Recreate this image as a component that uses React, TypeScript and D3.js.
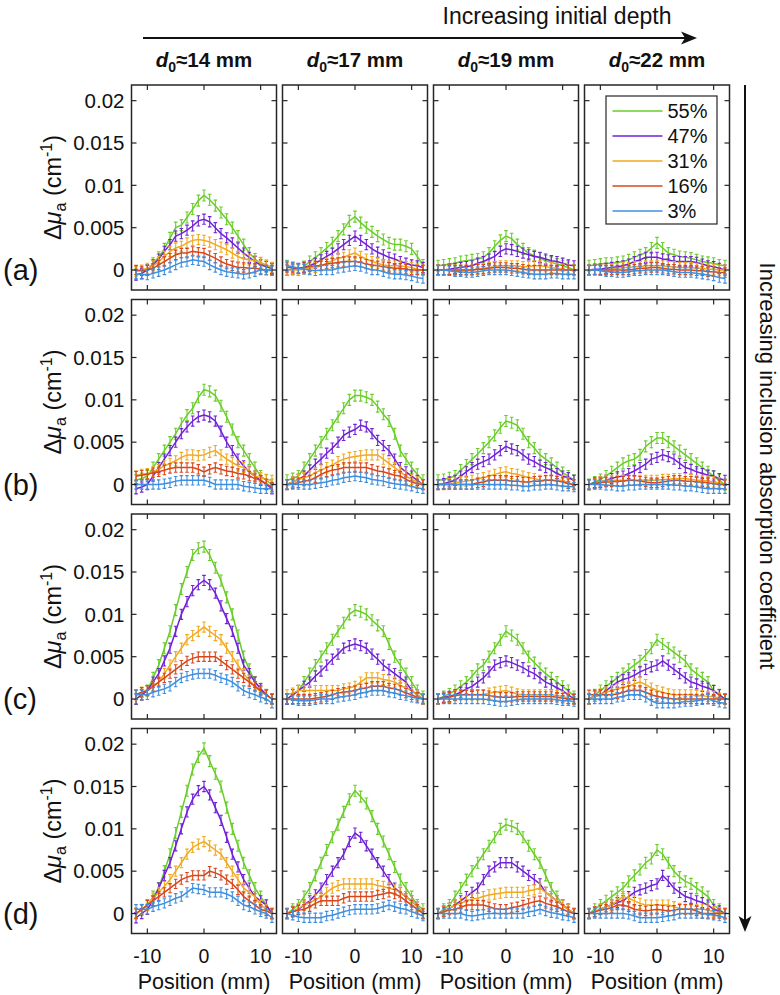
import React from 'react';
import * as d3 from 'd3';

// Sampling positions (mm)
const POSITIONS = [-12, -11, -10, -9, -8, -7, -6, -5, -4, -3, -2, -1, 0, 1, 2, 3, 4, 5, 6, 7, 8, 9, 10, 11, 12];
const SERIES_LABELS = ['55%', '47%', '31%', '16%', '3%'];
const SERIES_COLORS = ['#6acd2a', '#7022d6', '#f1a91f', '#d8471c', '#3e8fe0'];
// error bar half-heights, in 1e-3 cm^-1
const SERIES_ERR = [0.65, 0.6, 0.6, 0.55, 0.55];
const DEPTHS = ['14', '17', '19', '22'];
const ROW_LABELS = ['(a)', '(b)', '(c)', '(d)'];
const Y_TICKS = [0, 0.005, 0.01, 0.015, 0.02];
const Y_TICK_LABELS = ['0', '0.005', '0.01', '0.015', '0.02'];
const X_TICKS = [-10, 0, 10];
const UNIT = 1e-3; // values below are in 1e-3 cm^-1

// Row (a)
const A14 = [
  [-0.5, -0.4, 0, 0.8, 1.5, 2.5, 3.8, 5, 5.3, 6.2, 7.2, 8.2, 8.8, 8.3, 7.6, 6.8, 6, 5, 4, 3, 2, 1.3, 0.8, 0.4, 0.1],
  [-0.6, -0.4, 0, 0.6, 1.3, 2.2, 3, 4, 4.3, 4.7, 5.2, 5.8, 6, 5.7, 5, 4.3, 3.8, 3.2, 2.6, 2, 1.5, 1, 0.6, 0.4, 0.2],
  [-0.2, 0, 0.2, 0.5, 1, 1.6, 2.2, 2.6, 2.8, 3.2, 3.5, 3.6, 3.5, 3.3, 3, 2.7, 2.4, 2, 1.6, 1.3, 1.2, 1.1, 0.9, 0.6, 0.3],
  [0, -0.1, 0, 0.2, 0.6, 1, 1.4, 1.8, 2, 2, 2.2, 2.1, 2, 1.7, 1.4, 1, 0.7, 0.5, 0.3, 0.3, 0.2, 0.2, 0.1, 0, 0],
  [-0.5, -0.5, -0.6, -0.4, -0.2, 0, 0.3, 0.6, 0.9, 1, 1.2, 1.1, 1, 0.6, 0.3, 0, -0.2, -0.3, -0.4, -0.5, -0.4, -0.2, 0, 0, -0.1],
];
const A17 = [
  [0.5, 0.2, 0, 0.4, 1, 1.5, 2, 2.6, 3.2, 4, 4.8, 5.8, 6.3, 5.6, 5, 4.5, 4, 3.6, 3.2, 3, 3, 2.8, 2.5, 1.6, 0.6],
  [0, 0.1, 0.2, 0.3, 0.5, 0.8, 1.2, 1.6, 2, 2.5, 3, 3.5, 4, 3.5, 3, 2.5, 2.1, 1.8, 1.5, 1.3, 1, 0.8, 0.6, 0.5, 0.3],
  [0, 0, 0, 0.1, 0.2, 0.3, 0.5, 0.8, 1.1, 1.4, 1.5, 1.8, 2, 1.6, 1.3, 1, 0.8, 0.6, 0.5, 0.5, 0.5, 0.4, 0.3, 0.1, 0],
  [0.3, 0.3, 0.2, 0.3, 0.4, 0.5, 0.5, 0.7, 0.8, 0.9, 1, 1, 1, 0.9, 0.7, 0.6, 0.5, 0.4, 0.3, 0.2, 0.2, 0.1, 0, 0, 0],
  [0.5, 0.4, 0.2, 0.1, 0, -0.1, 0, 0, 0, 0.2, 0.3, 0.4, 0.5, 0.4, 0.2, 0, 0, -0.2, -0.4, -0.5, -0.5, -0.6, -0.7, -0.9, -1],
];
const A19 = [
  [0.5, 0.6, 0.7, 0.8, 1, 1.1, 1.2, 1.3, 1.5, 2, 2.8, 3.5, 4, 3.7, 3, 2.5, 2, 1.7, 1.4, 1.1, 0.9, 0.7, 0.5, 0.3, 0],
  [0, 0, 0.1, 0.2, 0.3, 0.4, 0.5, 0.8, 1, 1.3, 1.6, 2.2, 2.5, 2.4, 2.2, 2, 1.8, 1.6, 1.5, 1.3, 1.1, 1, 0.8, 0.6, 0.5],
  [0, 0, 0, 0, 0, 0, 0, 0.1, 0.2, 0.3, 0.4, 0.5, 0.5, 0.5, 0.5, 0.4, 0.4, 0.5, 0.5, 0.4, 0.3, 0.2, 0.1, 0, 0],
  [0, 0, 0, 0, 0, 0, 0, 0.1, 0.1, 0.2, 0.3, 0.3, 0.3, 0.2, 0.2, 0.1, 0, 0, 0, 0, 0, 0, 0, 0, 0],
  [0, 0, -0.1, -0.2, -0.2, -0.3, -0.3, -0.2, -0.1, 0, 0, 0, 0, -0.1, -0.2, -0.3, -0.4, -0.5, -0.5, -0.5, -0.4, -0.4, -0.5, -0.5, -0.5],
];
const A22 = [
  [0.5, 0.6, 0.7, 0.8, 0.8, 0.9, 1, 1.2, 1.5, 1.8, 2, 2.6, 3.2, 2.6, 2, 1.8, 1.6, 1.5, 1.4, 1.2, 1, 0.9, 0.8, 0.6, 0.5],
  [0, 0.1, 0.1, 0.2, 0.3, 0.4, 0.5, 0.7, 1, 1.2, 1.5, 1.5, 1.5, 1.3, 1.2, 1, 1, 1, 1, 0.9, 0.7, 0.5, 0.4, 0.2, 0],
  [0, 0, 0, 0, 0.1, 0.2, 0.3, 0.3, 0.4, 0.4, 0.5, 0.5, 0.5, 0.5, 0.4, 0.4, 0.3, 0.3, 0.3, 0.2, 0.2, 0.1, 0.1, 0, 0],
  [0, 0, 0, 0, 0, 0, 0, 0, 0.1, 0.2, 0.2, 0.3, 0.3, 0.2, 0.1, 0.1, 0, 0, 0, -0.1, -0.1, -0.2, -0.2, -0.3, -0.3],
  [0, 0, -0.1, -0.2, -0.2, -0.3, -0.3, -0.2, -0.1, -0.1, 0, 0, 0, 0, -0.1, -0.2, -0.3, -0.3, -0.3, -0.4, -0.5, -0.6, -0.7, -0.9, -1],
];

// Row (b)
const B14 = [
  [0.5, 0.7, 1, 2, 3, 4, 5, 6, 7.2, 8.2, 9, 10.3, 11.2, 11, 10.5, 9.3, 8, 6.5, 5, 4, 3, 2, 1, 0.5, 0],
  [-0.5, -0.3, 0, 1, 2, 3, 4, 5, 6, 6.8, 7.5, 8, 8.2, 8, 7.5, 6.3, 5, 4, 3, 2.2, 1.5, 1, 0.5, 0, -0.5],
  [1, 1.2, 1.3, 1.5, 1.8, 2.2, 2.5, 2.8, 3.2, 3.5, 3.5, 3.4, 3.5, 3.8, 4, 3.5, 3, 2.6, 2.2, 2, 1.6, 1, 0.8, 0.6, 0.5],
  [1, 1.1, 1.2, 1.4, 1.5, 1.7, 1.9, 2, 2, 2, 2, 1.8, 1.5, 1.8, 2, 1.8, 1.6, 1.5, 1.3, 1.2, 1, 0.7, 0.5, 0.1, -0.3],
  [0, 0, 0, 0, 0, 0.1, 0.2, 0.4, 0.5, 0.5, 0.5, 0.5, 0.5, 0.3, 0, 0, 0, 0, 0, -0.2, -0.3, -0.4, -0.5, -0.5, -0.5],
];
const B17 = [
  [0.5, 0.7, 1, 2, 3, 4, 5, 6, 7, 8, 9, 10, 10.5, 10.5, 10.3, 10, 9.2, 8.3, 7.5, 6, 4, 3, 2, 1.2, 0.5],
  [0, 0.3, 0.6, 1, 1.7, 2.4, 3, 3.7, 4.3, 5, 5.8, 6.2, 6.5, 7, 6.8, 6, 5.2, 4.6, 4, 3, 2, 1.5, 1, 0.5, 0],
  [0, 0.3, 0.6, 0.8, 1, 1.4, 1.7, 2, 2.3, 2.7, 3, 3.2, 3.3, 3.4, 3.5, 3.5, 3.5, 3, 2.5, 2, 1.5, 1, 0.6, 0.3, 0],
  [0, 0.1, 0.2, 0.4, 0.5, 0.8, 1.2, 1.5, 1.7, 1.8, 2, 2, 2, 2, 2, 1.8, 1.6, 1.5, 1.3, 1.1, 1, 0.6, 0.3, 0.1, 0],
  [0, 0, 0, 0, 0, 0.1, 0.2, 0.3, 0.5, 0.6, 0.8, 0.9, 1, 0.9, 0.8, 0.6, 0.5, 0.4, 0.2, 0.1, 0, -0.1, -0.2, -0.4, -0.5],
];
const B19 = [
  [0.5, 0.6, 0.8, 1, 1.7, 2.3, 3, 3.6, 4.3, 5, 5.8, 6.7, 7.5, 7.3, 7, 6, 5, 4.3, 3.5, 3, 2.5, 2, 1.4, 1, 0.5],
  [0, 0.1, 0.3, 0.5, 1, 1.5, 2, 2.4, 2.7, 3, 3.5, 4, 4.5, 4.2, 4, 3.5, 3, 2.7, 2.3, 2, 1.7, 1.3, 1, 0.8, 0.5],
  [0, 0, 0.1, 0.2, 0.3, 0.4, 0.5, 0.7, 0.8, 1, 1.2, 1.4, 1.5, 1.3, 1.2, 1, 0.8, 0.7, 0.5, 0.5, 0.5, 0.5, 0.5, 0.2, 0],
  [0, 0, 0, 0, 0, 0, 0, 0.2, 0.3, 0.5, 0.5, 0.5, 0.5, 0.4, 0.4, 0.3, 0.3, 0.4, 0.4, 0.5, 0.5, 0.4, 0.3, 0.1, 0],
  [0, 0, 0, 0, 0, 0, 0, 0, 0, 0, 0, 0, 0, -0.1, -0.1, -0.2, -0.2, -0.1, -0.1, 0, 0, -0.1, -0.2, -0.2, -0.3],
];
const B22 = [
  [0, 0.3, 0.6, 1, 1.5, 2, 2.5, 2.8, 3, 3.5, 4.5, 5, 5.5, 5.5, 5, 4.5, 4, 3.5, 3, 2.5, 2, 1.5, 1, 0.5, 0],
  [0, 0.2, 0.3, 0.5, 0.7, 0.9, 1, 1.3, 1.6, 2, 2.4, 3, 3.2, 3.5, 3.3, 3, 2.5, 2, 1.8, 1.5, 1.3, 1.1, 1, 0.7, 0.5],
  [0, 0.1, 0.3, 0.5, 0.5, 0.5, 0.5, 0.5, 0.5, 0.5, 0.5, 0.5, 0.5, 0.6, 0.6, 0.7, 0.7, 0.7, 0.6, 0.5, 0.5, 0.4, 0.3, 0.2, 0],
  [0, 0.1, 0.2, 0.3, 0.3, 0.4, 0.4, 0.5, 0.5, 0.4, 0.3, 0.2, 0.2, 0.3, 0.4, 0.5, 0.5, 0.4, 0.4, 0.3, 0.3, 0.2, 0.1, 0, 0],
  [0, 0, 0, -0.1, -0.1, -0.2, -0.2, -0.1, -0.1, 0, 0, 0, 0, 0, 0, -0.1, -0.1, -0.2, -0.2, -0.3, -0.4, -0.5, -0.5, -0.5, -0.5],
];

// Row (c)
const C14 = [
  [0, 0.5, 1, 2.5, 4, 6, 8, 10.5, 13, 15, 17, 17.8, 18, 17, 15.5, 14, 12, 10, 7.5, 5, 3.5, 2, 1.2, 0.5, 0],
  [0, 0.5, 1, 2, 3, 4.5, 6, 8, 10, 11.5, 12.8, 13.5, 14, 13.5, 12.5, 11, 9.5, 8, 6, 4, 3, 2, 1.2, 0.5, 0],
  [0.5, 0.8, 1, 1.5, 2, 3, 4, 5, 6, 7, 7.5, 8, 8.5, 8, 7.5, 7, 6, 5, 4, 3, 2.2, 1.5, 0.8, 0.5, 0],
  [0.5, 0.8, 1, 1.5, 2, 2.5, 3, 3.5, 4, 4.5, 4.8, 5, 5, 5, 5, 4.5, 4, 3.5, 3, 2.5, 2, 1.5, 1, 0.5, 0],
  [0.5, 0.5, 0.5, 0.8, 1, 1.2, 1.5, 2, 2.5, 2.7, 2.9, 3, 3, 3, 2.8, 2.5, 2.3, 2, 1.5, 1, 0.7, 0.5, 0.2, 0, -0.5],
];
const C17 = [
  [0, 0.5, 1, 2, 3, 4, 5, 6, 7, 8, 9, 10, 10.5, 10.3, 10, 9.3, 8.7, 8, 6.5, 5, 4, 3, 2, 1, 0.3],
  [0, 0.5, 1, 1.5, 2, 2.7, 3.3, 4, 4.7, 5.3, 6, 6.3, 6.5, 6.3, 6, 5.3, 4.7, 4, 3.5, 3, 2.5, 2, 1, 0.5, 0],
  [0.5, 0.7, 1, 1, 1, 1, 1, 1, 1, 1, 1.2, 1.3, 1.5, 2, 2.5, 2.5, 2.5, 2.3, 2.2, 2, 1.6, 1.3, 1, 0.5, 0],
  [0, 0, 0, 0, 0, 0.1, 0.2, 0.3, 0.5, 0.7, 0.8, 0.9, 1, 1.2, 1.3, 1.5, 1.5, 1.5, 1.3, 1.2, 1, 0.7, 0.5, 0.2, 0],
  [0, -0.1, -0.2, -0.2, -0.2, -0.1, 0, 0, 0, 0.2, 0.3, 0.4, 0.5, 0.7, 0.8, 1, 1, 1, 0.8, 0.7, 0.5, 0.4, 0.2, 0.1, 0],
];
const C19 = [
  [0, 0.3, 0.6, 1, 1.5, 2, 2.7, 3.5, 4, 5, 6, 7, 8, 7.5, 7, 6, 5, 4.3, 3.6, 3, 2.5, 2, 1.5, 1, 0.3],
  [0, 0.2, 0.3, 0.5, 0.8, 1.2, 1.5, 2, 2.5, 3.2, 4, 4.3, 4.5, 4.3, 4, 3.7, 3.3, 3, 2.5, 2, 1.7, 1.3, 1, 0.5, 0],
  [0, 0.1, 0.2, 0.4, 0.5, 0.5, 0.5, 0.5, 0.5, 0.7, 0.8, 0.9, 1, 0.8, 0.6, 0.5, 0.5, 0.5, 0.5, 0.5, 0.5, 0.4, 0.3, 0.1, 0],
  [0, 0.1, 0.2, 0.4, 0.5, 0.5, 0.5, 0.5, 0.5, 0.4, 0.3, 0.2, 0.2, 0.2, 0.3, 0.3, 0.3, 0.3, 0.3, 0.3, 0.3, 0.2, 0.1, 0, 0],
  [0, 0, 0, 0, 0, 0, 0, 0, 0, -0.1, -0.2, -0.3, -0.3, -0.2, -0.1, 0, 0, 0, 0, 0, 0, -0.1, -0.2, -0.2, -0.3],
];
const C22 = [
  [0, 0.5, 1, 1.5, 2, 2.5, 3, 3.5, 4, 4.5, 5.2, 6, 7, 6.5, 6, 5.5, 5, 4.5, 3.5, 3, 2.5, 2, 1, 0.5, 0],
  [0, 0.3, 0.5, 1, 1.5, 2, 2.3, 2.5, 2.8, 3.2, 3.5, 3.8, 4, 4.5, 4, 3.5, 3, 2.5, 2, 1.8, 1.5, 1.3, 1, 0.5, 0],
  [0, 0.3, 0.6, 0.8, 1, 1.2, 1.4, 1.5, 1.8, 2, 1.7, 1.3, 1, 0.8, 0.6, 0.5, 0.5, 0.5, 0.5, 0.4, 0.4, 0.3, 0.3, 0.1, 0],
  [0.5, 0.5, 0.5, 0.5, 0.5, 0.6, 0.8, 1, 1, 1, 0.8, 0.5, 0.3, 0.2, 0.1, 0, 0, 0, 0, 0, 0, 0, 0, 0, 0],
  [0, 0, 0, 0, 0, 0.2, 0.3, 0.5, 0.5, 0.5, 0.2, -0.2, -0.5, -0.5, -0.5, -0.5, -0.4, -0.3, -0.3, -0.2, -0.1, 0, -0.2, -0.4, -0.5],
];

// Row (d)
const D14 = [
  [0, 0.4, 1, 2, 3, 5, 7, 9.5, 12, 14.5, 17, 18.5, 19.5, 18, 16.5, 15, 12.5, 10, 8, 6, 4.5, 3, 2, 1, 0],
  [-0.5, 0, 0.5, 1.5, 3, 4.5, 6, 8, 10, 12, 13.5, 14.5, 15, 14, 12.5, 11, 9, 7, 5.5, 4, 3, 2, 1.5, 1, 0],
  [0, 0.5, 1, 1.8, 2.5, 3.2, 4, 5, 6, 7, 7.8, 8.2, 8.5, 8, 7.5, 7, 6, 5, 4, 3, 2.5, 2, 1, 0.5, 0],
  [0, 0.5, 1, 1.5, 2, 2.5, 3, 3.5, 4, 4.3, 4.5, 4.5, 4.5, 5, 4.8, 4.5, 4, 3.5, 2.8, 2, 1.5, 1, 0.5, 0.3, 0],
  [0.5, 0.5, 0.5, 0.8, 1, 1.2, 1.5, 1.8, 2, 2.5, 3, 2.9, 2.8, 2.5, 2.5, 2.5, 2.3, 2, 1.5, 1, 0.8, 0.5, 0.2, 0, -0.5],
];
const D17 = [
  [0, 0.5, 1, 2, 3, 4.5, 6, 7.5, 9, 10.5, 12, 13.5, 14.5, 13.8, 13, 11.5, 10, 8.5, 7, 5.5, 4, 3, 2, 1, 0.5],
  [0, 0.2, 0.5, 1, 1.5, 2.2, 3, 4, 5, 6, 7, 8.5, 9.5, 9, 8, 7, 6, 5, 4, 3, 2.5, 2, 1.5, 0.8, 0],
  [0, 0.3, 0.6, 1, 1.3, 1.6, 2, 2.5, 3, 3.3, 3.5, 3.5, 3.5, 3.5, 3.5, 3.5, 3.3, 3.2, 3, 2.8, 2.5, 2, 1.5, 0.8, 0],
  [0, 0.2, 0.4, 0.5, 0.8, 1.2, 1.5, 1.5, 1.5, 1.5, 1.8, 2, 2, 2, 2, 2, 2.2, 2.3, 2.5, 2.3, 2, 1.5, 1, 0.5, 0],
  [0, -0.2, -0.4, -0.5, -0.5, -0.5, -0.5, -0.3, -0.2, 0, 0.2, 0.4, 0.5, 0.5, 0.5, 0.5, 0.6, 0.8, 1, 0.8, 0.6, 0.5, 0.2, 0, -0.3],
];
const D19 = [
  [0, 0.5, 1, 2, 3, 4, 5, 6, 7, 8, 9, 10, 10.5, 10.3, 10, 9, 8, 7, 6, 4.5, 3, 2, 1, 0.5, 0],
  [0, 0.3, 0.6, 1, 1.5, 2, 2.5, 3, 4, 5, 5.5, 6, 6, 6, 5.5, 5, 4.5, 4, 3.5, 2.5, 2, 1.5, 1, 0.5, 0],
  [0, 0.3, 0.6, 1, 1.2, 1.5, 1.7, 1.8, 2, 2.2, 2.3, 2.4, 2.5, 2.5, 2.5, 2.5, 2.7, 2.8, 3, 2.5, 2, 1.5, 1, 0.5, 0],
  [0, 0.2, 0.4, 0.5, 0.7, 1, 1, 1, 1, 0.8, 0.6, 0.5, 0.5, 0.7, 0.8, 1, 1.2, 1.4, 1.5, 1.2, 1, 0.8, 0.5, 0.2, 0],
  [0, 0, 0, 0, 0, -0.2, -0.3, -0.2, -0.1, 0, 0, 0, 0, 0, 0, 0, 0.2, 0.3, 0.5, 0.3, 0.1, 0, -0.2, -0.3, -0.5],
];
const D22 = [
  [0, 0.5, 1, 1.5, 2, 2.5, 3, 3.8, 4.5, 5.2, 6, 6.5, 7.5, 7, 6, 5, 4.3, 3.8, 3.5, 3, 2.5, 2, 1, 0.5, 0],
  [0, 0.2, 0.5, 0.8, 1, 1.3, 1.5, 2, 2.5, 2.8, 3, 3.3, 3.5, 4.5, 3.8, 3, 2.5, 2, 1.8, 1.5, 1.3, 1, 0.5, 0.3, 0],
  [0, 0.2, 0.5, 0.8, 1, 1.5, 2, 1.8, 1.5, 1.2, 1, 1, 1, 1, 1, 0.8, 0.6, 0.5, 0.5, 0.5, 0.5, 0.4, 0.2, 0.1, 0],
  [0, 0.2, 0.4, 0.5, 0.7, 1, 1, 0.8, 0.5, 0.4, 0.3, 0.4, 0.5, 0.4, 0.3, 0.4, 0.5, 0.5, 0.5, 0.3, 0, 0, 0, 0, 0],
  [0, 0, 0, 0, 0, 0, 0, -0.1, -0.3, -0.5, -0.5, -0.5, -0.5, -0.4, -0.3, -0.2, 0, 0, 0, 0, 0, -0.1, -0.2, -0.3, -0.5],
];

const PANELS = [
  [A14, A17, A19, A22],
  [B14, B17, B19, B22],
  [C14, C17, C19, C22],
  [D14, D17, D19, D22],
];

// Layout
const COL_LEFT = [131.5, 282.5, 433.5, 584.5];
const ROW_TOP = [85, 299.5, 514, 728.5];
const PW = 145;
const PH = 205;
const FONT = "'Liberation Sans', Arial, Helvetica, sans-serif";
const AXIS_COLOR = '#262626';

export default function App() {
  const x = d3.scaleLinear().domain([-12.8, 12.8]).range([0, PW]);
  const y = d3.scaleLinear().domain([-0.00236, 0.02185]).range([PH, 0]);
  const line = d3
    .line<number>()
    .x((_, i) => x(POSITIONS[i]))
    .y((d) => y(d * UNIT));
  const tickLen = 5;
  const cap = 1.8;

  return (
    <svg
      width={780}
      height={995}
      viewBox="0 0 780 995"
      style={{ position: 'absolute', left: 0, top: 0, background: '#fff' }}
      fontFamily={FONT}
    >
      <defs>
        {PANELS.map((row, r) =>
          row.map((_, c) => (
            <clipPath id={`clip-${r}-${c}`} key={`cp-${r}-${c}`}>
              <rect x={0} y={0} width={PW} height={PH} />
            </clipPath>
          ))
        )}
      </defs>

      {/* Top header */}
      <text x={557} y={24} fontSize={23} textAnchor="middle" fill="#111">
        Increasing initial depth
      </text>
      <line x1={143} y1={38} x2={688} y2={38} stroke="#111" strokeWidth={2} />
      <path d="M697,38 L681,31.5 L685,38 L681,44.5 Z" fill="#111" />
      {DEPTHS.map((d, c) => (
        <text
          key={`dep-${c}`}
          x={COL_LEFT[c] + PW / 2}
          y={67}
          fontSize={20.5}
          fontWeight="bold"
          textAnchor="middle"
          fill="#111"
        >
          <tspan fontStyle="italic">d</tspan>
          <tspan fontSize={14} dy={5}>0</tspan>
          <tspan dy={-5}>{`≈${d} mm`}</tspan>
        </text>
      ))}

      {/* Right side arrow */}
      <line x1={745} y1={85} x2={745} y2={922} stroke="#111" strokeWidth={2} />
      <path d="M745,932 L738.5,916 L745,920 L751.5,916 Z" fill="#111" />
      <text
        transform={`translate(760,466) rotate(90)`}
        fontSize={22}
        textAnchor="middle"
        fill="#111"
      >
        Increasing inclusion absorption coefficient
      </text>

      {PANELS.map((row, r) => (
        <g key={`row-${r}`}>
          {/* Row label */}
          <text x={3} y={ROW_TOP[r] + y(0) + 10} fontSize={29} fill="#111">
            {ROW_LABELS[r]}
          </text>
          {/* Y axis label */}
          <text
            transform={`translate(61,${ROW_TOP[r] + PH / 2}) rotate(-90)`}
            fontSize={23.5}
            textAnchor="middle"
            fill="#111"
          >
            <tspan>Δ</tspan>
            <tspan fontStyle="italic">μ</tspan>
            <tspan fontSize={16} dy={5}>a</tspan>
            <tspan dy={-5}> (cm</tspan>
            <tspan fontSize={16} dy={-9}>-1</tspan>
            <tspan dy={9}>)</tspan>
          </text>
          {/* Y tick labels */}
          {Y_TICKS.map((t, i) => (
            <text
              key={`yl-${r}-${i}`}
              x={COL_LEFT[0] - 7}
              y={ROW_TOP[r] + y(t)}
              dy="0.35em"
              fontSize={20.5}
              textAnchor="end"
              fill="#111"
            >
              {Y_TICK_LABELS[i]}
            </text>
          ))}
          {row.map((panel, c) => (
            <g key={`p-${r}-${c}`} transform={`translate(${COL_LEFT[c]},${ROW_TOP[r]})`}>
              <g clipPath={`url(#clip-${r}-${c})`}>
                {panel.map((vals, s) => (
                  <g key={`s-${s}`} stroke={SERIES_COLORS[s]} fill="none">
                    <path d={line(vals) || ''} strokeWidth={1.5} />
                    {vals.map((v, i) => {
                      const px = x(POSITIONS[i]);
                      const y1 = y((v - SERIES_ERR[s]) * UNIT);
                      const y2 = y((v + SERIES_ERR[s]) * UNIT);
                      return (
                        <path
                          key={i}
                          d={`M${px},${y1}V${y2}M${px - cap},${y1}H${px + cap}M${px - cap},${y2}H${px + cap}`}
                          strokeWidth={1.1}
                        />
                      );
                    })}
                  </g>
                ))}
              </g>
              {/* ticks */}
              <g stroke={AXIS_COLOR} strokeWidth={1.2}>
                {X_TICKS.map((t) => (
                  <g key={`xt-${t}`}>
                    <line x1={x(t)} x2={x(t)} y1={PH} y2={PH - tickLen} />
                    <line x1={x(t)} x2={x(t)} y1={0} y2={tickLen} />
                  </g>
                ))}
                {Y_TICKS.map((t) => (
                  <g key={`yt-${t}`}>
                    <line x1={0} x2={tickLen} y1={y(t)} y2={y(t)} />
                    <line x1={PW} x2={PW - tickLen} y1={y(t)} y2={y(t)} />
                  </g>
                ))}
              </g>
              <rect x={0} y={0} width={PW} height={PH} fill="none" stroke={AXIS_COLOR} strokeWidth={1.5} />
              {/* legend */}
              {r === 0 && c === 3 && (
                <g>
                  <rect x={21.5} y={11} width={111} height={128} fill="#fff" stroke={AXIS_COLOR} strokeWidth={1.2} />
                  {SERIES_LABELS.map((lab, s) => (
                    <g key={`lg-${s}`} transform={`translate(0,${26 + s * 25})`}>
                      <line x1={28} x2={78} y1={0} y2={0} stroke={SERIES_COLORS[s]} strokeWidth={1.3} />
                      <text x={83} y={0} dy="0.35em" fontSize={20} fill="#111">
                        {lab}
                      </text>
                    </g>
                  ))}
                </g>
              )}
              {/* x tick labels (bottom row) */}
              {r === 3 &&
                X_TICKS.map((t) => (
                  <text key={`xl-${t}`} x={x(t)} y={PH + 29} fontSize={19.5} textAnchor="middle" fill="#111">
                    {t === -10 ? '-10' : String(t)}
                  </text>
                ))}
              {r === 3 && (
                <text x={PW / 2} y={PH + 55} fontSize={21.5} textAnchor="middle" fill="#111">
                  Position (mm)
                </text>
              )}
            </g>
          ))}
        </g>
      ))}
    </svg>
  );
}
